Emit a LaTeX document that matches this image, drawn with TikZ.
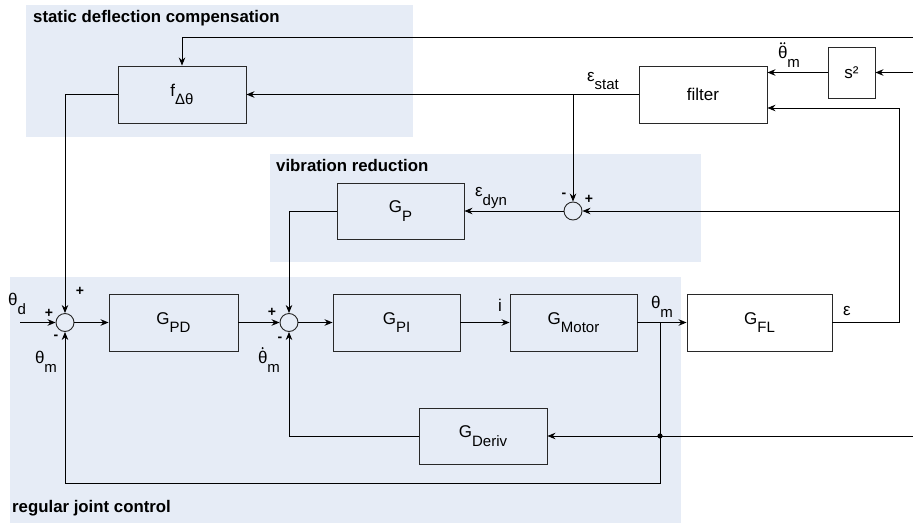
\documentclass[tikz,border=0pt]{standalone}
\usepackage{fontspec}
\setmainfont{Liberation Sans}
\usetikzlibrary{arrows.meta,calc}
\definecolor{panelblue}{RGB}{230,236,246}
\definecolor{edge}{RGB}{40,40,40}
\newcommand\lsub[1]{\raisebox{-0.5em}{\fontsize{15}{15}\selectfont #1}}
\begin{document}
\begin{tikzpicture}[x=1pt,y=-1pt,
  panel/.style={fill=panelblue, draw=none},
  ptitle/.style={anchor=west, inner sep=0, font=\fontsize{16.8}{16.8}\selectfont\bfseries},
  blk/.style={draw=edge, line width=0.9pt, inner sep=0, fill=none, font=\fontsize{17}{17}\selectfont},
  sumn/.style={circle, draw=edge, line width=0.9pt, minimum size=18pt, inner sep=0},
  lbl/.style={inner sep=0, font=\fontsize{17}{17}\selectfont},
  sgn/.style={inner sep=0, font=\fontsize{14}{14}\selectfont\bfseries},
  wire/.style={line width=0.9pt, draw=black},
  arr/.style={wire, -{Stealth[length=8pt,width=6.5pt]}}]
\useasboundingbox (0,0) rectangle (913,525);
% panels
\fill[panel] (26,5) rectangle (413,137);
\fill[panel] (270,154) rectangle (701,262);
\fill[panel] (10,277) rectangle (681,523);
\node[ptitle] (t1) at (33,18) {static deflection compensation};
\node[ptitle] (t2) at (276,165) {vibration reduction};
\node[ptitle] (t3) at (12,508) {regular joint control};
% blocks
\node[blk, minimum width=128pt, minimum height=57pt] (f) at (182,94.5) {f\lsub{Δθ}};
\node[blk, minimum width=128pt, minimum height=57pt] (filt) at (703,94.5) {filter};
\node[blk, minimum width=47pt, minimum height=51pt] (sq) at (851.5,72.5) {s²};
\node[blk, minimum width=127pt, minimum height=56pt] (gp) at (400.5,211) {G\lsub{P}};
\node[blk, minimum width=129pt, minimum height=57pt] (pd) at (173.5,322.5) {G\lsub{PD}};
\node[blk, minimum width=127pt, minimum height=57pt] (pi) at (396.5,322.5) {G\lsub{PI}};
\node[blk, minimum width=127pt, minimum height=57pt] (mot) at (573.5,322.5) {G\lsub{Motor}};
\node[blk, minimum width=145pt, minimum height=57pt] (fl) at (759.5,322.5) {G\lsub{FL}};
\node[blk, minimum width=128pt, minimum height=56pt] (der) at (483,436) {G\lsub{Deriv}};
% sums
\node[sumn] (s1) at (65,322.5) {};
\node[sumn] (s2) at (289,322.5) {};
\node[sumn] (s3) at (573,211) {};
% coordinates
\coordinate (rin1) at (913,37);
\coordinate (rin2) at (913,72.5);
\coordinate (rin3) at (913,436);
\coordinate (thd) at (20,322.5);
\coordinate (j1) at (660,322.5);
\coordinate (j2) at (660,436);
\coordinate (c1) at (660,483);
\coordinate (c2) at (899,108);
\coordinate (c3) at (899,211);
% wires
\draw[arr] (rin1) -| (f.north);
\draw[arr] (f.west) -| (s1.north);
\draw[arr] (thd) -- (s1.west);
\draw[arr] (s1.east) -- (pd.west);
\draw[arr] (pd.east) -- (s2.west);
\draw[arr] (gp.west) -| (s2.north);
\draw[arr] (s2.east) -- (pi.west);
\draw[arr] (pi.east) -- (mot.west);
\draw[arr] (mot.east) -- (fl.west);
\draw[arr] (j1) -- (c1) -| (s1.south);
\draw[arr] (rin3) -- (der.east);
\draw[arr] (der.west) -| (s2.south);
\fill (j2) circle (2.6pt);
\draw[arr] (fl.east) -| (c2) -- (filt.east |- c2);
\draw[arr] (c3) -- (s3.east);
\draw[arr] (rin2) -- (sq.east);
\draw[arr] (sq.west) -- (filt.east |- sq.west);
\draw[arr] (filt.west) -- (f.east);
\draw[arr] (s3.north |- filt.west) -- (s3.north);
\draw[arr] (s3.west) -- (gp.east);
% labels
\node[lbl] (lthd) at (17,304) {θ\lsub{d}};
\node[lbl] (lthm1) at (46,362) {θ\lsub{m}};
\node[lbl] (lthm2) at (269,362) {θ\lsub{m}};
\fill ($(lthm2.north west)+(4.8,-3.2)$) circle (1.1pt);
\node[lbl] (li) at (500,305) {i};
\node[lbl] (lthm3) at (662,307) {θ\lsub{m}};
\node[lbl] (leps) at (847,311) {ε};
\node[lbl] (lest) at (603,81) {ε\lsub{stat}};
\node[lbl] (lthdd) at (789,57) {θ\lsub{m}};
\fill ($(lthdd.north west)+(3.2,-3.2)$) circle (1.1pt);
\fill ($(lthdd.north west)+(6.6,-3.2)$) circle (1.1pt);
\node[lbl] (ledyn) at (491,198) {ε\lsub{dyn}};
\node[sgn] (p1) at (49,313) {+};
\node[sgn] (p2) at (80,291) {+};
\node[sgn] (m1) at (56,337) {-};
\node[sgn] (p3) at (272,312) {+};
\node[sgn] (m2) at (280,339) {-};
\node[sgn] (m3) at (564,195) {-};
\node[sgn] (p4) at (589,199) {+};
\end{tikzpicture}
\end{document}
